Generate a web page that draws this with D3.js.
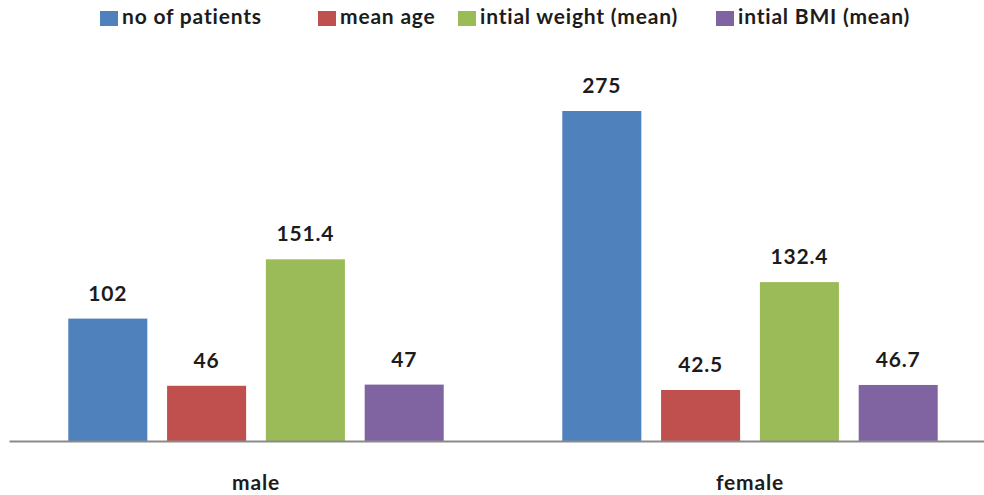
<!DOCTYPE html>
<html>
<head>
<meta charset="utf-8">
<script src="https://cdn.jsdelivr.net/npm/d3@7/dist/d3.min.js"></script>
<style>
  html, body { margin: 0; padding: 0; background: #fff; }
  svg { display: block; }
  text { font-family: Lato, "Open Sans", sans-serif; font-weight: bold; fill: #1c1c1c; letter-spacing: 0.8px; }
</style>
</head>
<body>
<svg id="chart" width="984" height="495"></svg>
<script>
// Patient groups and the four measures shown for each
const categories = ["male", "female"];
const seriesNames = ["no of patients", "mean age", "intial weight (mean)", "intial BMI (mean)"];
const noOfPatients = [102, 275];
const meanAge = [46, 42.5];
const initialWeight = [151.4, 132.4];
const initialBMI = [47, 46.7];
const valueLabels = [["102", "275"], ["46", "42.5"], ["151.4", "132.4"], ["47", "46.7"]];
const colors = ["#4F81BD", "#C0504D", "#9BBB59", "#8064A2"];

const seriesValues = [noOfPatients, meanAge, initialWeight, initialBMI];

const rows = categories.map((c, ci) => ({
  category: c,
  values: seriesNames.map((s, si) => ({
    series: s, value: seriesValues[si][ci], label: valueLabels[si][ci], color: colors[si]
  }))
}));

const svg = d3.select("#chart");

const x0 = d3.scaleBand().domain(categories).range([9, 997]);
const x1 = d3.scaleBand().domain(seriesNames).range([0, x0.bandwidth()])
  .paddingInner(0.2).paddingOuter(0.6);
const y = d3.scaleLinear().domain([0, 300]).range([441, 81]);

// bars grouped by category
const groups = svg.append("g").selectAll("g")
  .data(rows).join("g")
  .attr("transform", d => `translate(${x0(d.category)},0)`);

groups.selectAll("rect")
  .data(d => d.values).join("rect")
  .attr("x", d => x1(d.series))
  .attr("y", d => y(d.value))
  .attr("width", x1.bandwidth())
  .attr("height", d => y(0) - y(d.value))
  .attr("fill", d => d.color);

groups.selectAll("text.val")
  .data(d => d.values).join("text")
  .attr("class", "val")
  .attr("x", d => x1(d.series) + x1.bandwidth() / 2)
  .attr("y", d => y(d.value) - 18)
  .attr("text-anchor", "middle")
  .attr("font-size", 21)
  .text(d => d.label);

// category axis along the baseline
const axis = svg.append("g")
  .attr("transform", `translate(0,${y(0)})`)
  .call(d3.axisBottom(x0).tickSize(0).tickPadding(34));
axis.select(".domain").attr("stroke", "#8a8a8a").attr("stroke-width", 2);
axis.selectAll(".tick text")
  .attr("font-size", 21)
  .attr("font-family", "Lato, 'Open Sans', sans-serif")
  .attr("font-weight", "bold")
  .attr("fill", "#1c1c1c");

// legend across the top
const legendX = [100, 318, 458, 716];
const legend = svg.append("g").selectAll("g")
  .data(seriesNames).join("g")
  .attr("transform", (d, i) => `translate(${legendX[i]},0)`);
legend.append("rect")
  .attr("x", 0).attr("y", 11)
  .attr("width", 18).attr("height", 15)
  .attr("fill", (d, i) => colors[i]);
legend.append("text")
  .attr("x", 22).attr("y", 24)
  .attr("font-size", 21)
  .text(d => d);
</script>
</body>
</html>
